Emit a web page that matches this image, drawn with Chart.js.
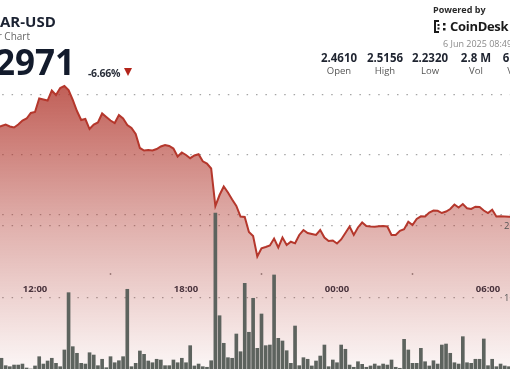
<!DOCTYPE html>
<html><head><meta charset="utf-8">
<script src="https://cdn.jsdelivr.net/npm/chart.js@4.4.1/dist/chart.umd.min.js"></script>
<style>
html,body{margin:0;padding:0;background:#fff}
body{width:510px;height:369px;overflow:hidden;position:relative;font-family:'Open Sans',sans-serif}
#c{position:absolute;left:0;top:0}
.t{position:absolute;white-space:nowrap}
.col{position:absolute;width:46px;text-align:center;white-space:nowrap}
.v{font-weight:700;font-size:11.5px;line-height:11.5px;color:#1f2430;top:52px}
.l{font-size:9.5px;line-height:9.5px;color:#555;top:66px}
</style></head><body>
<canvas id="c" width="510" height="370"></canvas>

<div class="t" style="left:0px;top:13.5px;font-size:15px;line-height:15px;font-weight:700;color:#1b2232">AR-USD</div>
<div class="t" style="right:480px;top:31px;font-size:10px;line-height:10px;color:#666">24 Hour Chart</div>
<div class="t" style="right:435px;top:44px;font-size:35px;line-height:35px;font-weight:700;color:#131b2c">$2.2971</div>
<div class="t" style="left:88px;top:67.5px;font-size:10.5px;line-height:10.5px;font-weight:700;color:#2a2f3a;letter-spacing:-0.3px">-6.66%</div>
<div class="t" style="left:124px;top:68px;width:0;height:0;border-left:4.5px solid transparent;border-right:4.5px solid transparent;border-top:8px solid #b3241a"></div>

<div class="t" style="left:433px;top:4.5px;font-size:9px;line-height:9px;font-weight:700;color:#2a2a2a">Powered by</div>
<svg class="t" style="left:434px;top:20px" width="14" height="13" viewBox="0 0 14 13">
<rect x="0" y="0" width="5" height="2" fill="#1a1a1a"/><rect x="0" y="0" width="2" height="13" fill="#1a1a1a"/>
<rect x="0" y="11" width="5" height="2" fill="#1a1a1a"/><rect x="3.5" y="4" width="2" height="2" fill="#1a1a1a"/>
<rect x="3.5" y="7.5" width="2" height="2" fill="#1a1a1a"/><rect x="9" y="3" width="2.5" height="2.5" fill="#1a1a1a"/>
<rect x="9" y="8" width="2.5" height="2.5" fill="#1a1a1a"/></svg>
<div class="t" style="left:450px;top:20px;font-size:13px;line-height:13px;font-weight:700;color:#1a1a1a;letter-spacing:-0.3px">CoinDesk</div>
<div class="t" style="left:443px;top:39px;font-size:9px;line-height:9px;color:#8a8a8a">6 Jun 2025 08:49</div>

<div class="col v" style="left:316px">2.4610</div><div class="col l" style="left:316px">Open</div>
<div class="col v" style="left:362px">2.5156</div><div class="col l" style="left:362px">High</div>
<div class="col v" style="left:407px">2.2320</div><div class="col l" style="left:407px">Low</div>
<div class="col v" style="left:453px">2.8 M</div><div class="col l" style="left:453px">Vol</div>
<div class="col v" style="left:495px">6.6 M</div><div class="col l" style="left:495px">Vol $</div>

<script>
// ---- data ----
const times = ["10:30","10:40","10:50","11:00","11:10","11:20","11:30","11:40","11:50",
"12:00","12:10","12:20","12:30","12:40","12:50","13:00","13:10","13:20","13:30","13:40","13:50",
"14:00","14:10","14:20","14:30","14:40","14:50","15:00","15:10","15:20","15:30","15:40","15:50",
"16:00","16:10","16:20","16:30","16:40","16:50","17:00","17:10","17:20","17:30","17:40","17:50",
"18:00","18:10","18:20","18:30","18:40","18:50","19:00","19:10","19:20","19:30","19:40","19:50",
"20:00","20:10","20:20","20:30","20:40","20:50","21:00","21:10","21:20","21:30","21:40","21:50",
"22:00","22:10","22:20","22:30","22:40","22:50","23:00","23:10","23:20","23:30","23:40","23:50",
"00:00","00:10","00:20","00:30","00:40","00:50","01:00","01:10","01:20","01:30","01:40","01:50",
"02:00","02:10","02:20","02:30","02:40","02:50","03:00","03:10","03:20","03:30","03:40","03:50",
"04:00","04:10","04:20","04:30","04:40","04:50","05:00","05:10","05:20","05:30","05:40","05:50",
"06:00","06:10","06:20","06:30","06:40","06:50","07:00"];

const prices = [2.4467,2.4483,2.4508,2.4475,2.4458,2.4508,2.4575,2.4608,2.4700,
2.4717,2.4942,2.4925,2.4908,2.5075,2.5000,2.5117,2.5150,2.5083,2.4917,2.4733,2.4583,
2.4600,2.4433,2.4508,2.4542,2.4692,2.4633,2.4575,2.4533,2.4667,2.4608,2.4500,2.4450,
2.4350,2.4117,2.4075,2.4083,2.4075,2.4100,2.4142,2.4167,2.4150,2.4108,2.3975,2.4042,
2.4000,2.3947,2.3992,2.4013,2.3895,2.3858,2.3775,2.3150,2.3333,2.3475,2.3375,2.3258,
2.3150,2.2975,2.2967,2.2717,2.2650,2.2308,2.2445,2.2467,2.2492,2.2608,2.2458,2.2625,
2.2500,2.2555,2.2528,2.2667,2.2750,2.2700,2.2683,2.2667,2.2750,2.2625,2.2567,2.2575,
2.2525,2.2592,2.2700,2.2808,2.2667,2.2792,2.2875,2.2817,2.2808,2.2805,2.2812,2.2817,
2.2808,2.2667,2.2667,2.2737,2.2762,2.2888,2.2833,2.2933,2.2978,2.2975,2.3042,2.3075,
2.3070,2.3033,2.3058,2.3100,2.3175,2.3125,2.3183,2.3112,2.3100,2.3138,2.3133,2.3075,
2.3033,2.3087,2.2975,2.2978,2.2975,2.2972,2.2971];

// volume per 10-minute bar, thousands
const volumes = [null,16.3,6.0,4.6,6.9,6.9,8.3,2.8,1.4,
5.6,18.5,8.3,12.5,16.3,9.3,4.6,27.8,107.4,32.4,23.2,9.3,
8.3,24.0,20.8,6.0,14.9,3.2,18.5,10.1,12.9,18.5,112.1,4.6,
9.3,26.4,21.8,12.5,10.1,14.9,13.9,6.0,6.0,13.9,10.1,16.3,
10.1,33.8,5.6,8.3,4.6,3.8,12.9,218.1,75.4,37.1,17.1,16.3,
50.0,25.4,120.4,52.4,99.6,30.1,77.8,33.8,34.7,132.0,44.0,40.3,
26.8,9.3,61.1,6.0,17.1,14.9,5.6,12.5,19.4,34.7,4.6,13.9,
10.1,34.7,28.8,6.9,3.8,11.5,7.9,3.8,5.6,8.3,5.6,8.3,
6.9,13.9,3.8,2.4,42.6,27.8,9.3,9.3,30.1,11.5,5.6,12.9,
8.3,34.7,36.1,23.2,10.1,8.3,46.3,10.1,9.3,14.9,14.9,43.1,
6.0,14.9,4.6,8.3,5.6,4.6,null];

const tickLabels = ["12:00","18:00","00:00","06:00"];
const priceGrid = [2.3, 2.4, 2.5];
const volumeGrid = [100, 200];
const volumeGridLabels = ["100K","200K"];

// ---- helpers ----
function toMin(t){ const [h,m]=t.split(":").map(Number); let v=h*60+m-720; if(v<-120) v+=1440; return v; }
const tickValues = tickLabels.map(toMin);
const pricePts = times.map((t,i)=>({x:toMin(t), y:prices[i]}));
const volPts = times.map((t,i)=>({x:toMin(t), y:volumes[i]}));

const volLabelPlugin = {
  id:'volLabels',
  afterDraw(chart){
    const s = chart.scales.yv, ctx = chart.ctx;
    ctx.save();
    ctx.font = "9.5px 'Open Sans'";
    ctx.fillStyle = '#555';
    ctx.textBaseline = 'middle';
    ctx.textAlign = 'left';
    volumeGrid.forEach((v,i)=> ctx.fillText(volumeGridLabels[i], 504, s.getPixelForValue(v)));
    ctx.restore();
  }
};

const dotted = {display:false, dash:[1.5,7.9], dashOffset:7.2};

new Chart(document.getElementById('c'), {
  type:'bar',
  data:{ datasets:[
    { type:'bar', data:volPts, yAxisID:'yv', xAxisID:'x', backgroundColor:'#5d635e',
      barThickness:3, grouped:false, order:0 },
    { type:'line', data:pricePts, yAxisID:'y', xAxisID:'x', borderColor:'#b5372c', borderWidth:2,
      pointRadius:0, tension:0, fill:'start', order:1,
      backgroundColor:(c)=>{ const g=c.chart.ctx.createLinearGradient(0,85,0,370);
        g.addColorStop(0,'rgba(175,50,40,0.78)'); g.addColorStop(0.5,'rgba(175,50,40,0.38)');
        g.addColorStop(1,'rgba(175,50,40,0.04)'); return g; } }
  ]},
  options:{
    responsive:false, animation:false, devicePixelRatio:1,
    layout:{padding:0},
    plugins:{legend:{display:false}, tooltip:{enabled:false}},
    scales:{
      x:{ type:'linear', min:-83.5, max:1132.5, offset:false, position:{y:2.20333},
        afterBuildTicks:(s)=>{ s.ticks = tickValues.map(v=>({value:v})); },
        ticks:{ autoSkip:false, maxRotation:0, padding:8.3, color:'#2a3343',
          font:{family:'Open Sans', size:9.5, weight:'bold'},
          callback:(v)=>{ const i=tickValues.indexOf(v); return i>=0 ? tickLabels[i] : ''; } },
        grid:{ drawOnChartArea:false, drawTicks:true, tickLength:2, tickWidth:1.5, tickColor:'#9a9a9a' },
        border:{display:false} },
      y:{ type:'linear', min:2.041667, max:2.658333, position:'left',
        afterBuildTicks:(s)=>{ s.ticks = priceGrid.map(v=>({value:v})); },
        ticks:{display:false}, grid:{color:'#a5a5a5', lineWidth:1.2, drawTicks:false}, border:dotted },
      yv:{ type:'linear', min:0, max:513.9, position:'right',
        afterBuildTicks:(s)=>{ s.ticks = volumeGrid.map(v=>({value:v})); },
        ticks:{display:false}, grid:{color:'#a5a5a5', lineWidth:1.2, drawTicks:false}, border:dotted }
    }
  },
  plugins:[volLabelPlugin]
});
</script>
</body></html>
